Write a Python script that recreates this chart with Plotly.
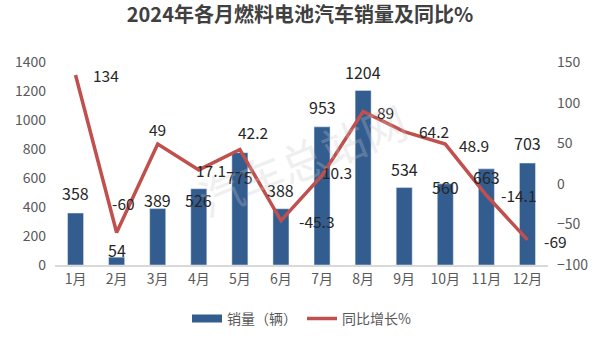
import plotly.graph_objects as go

months = ["1月", "2月", "3月", "4月", "5月", "6月", "7月", "8月", "9月", "10月", "11月", "12月"]
sales = [358, 54, 389, 526, 775, 388, 953, 1204, 534, 560, 663, 703]
yoy = [134, -60, 49, 17.1, 42.2, -45.3, 10.3, 89, 64.2, 48.9, -14.1, -69]

# label placement (pixel offsets from each mark)
sales_shift = [20, 7, 9, -11, -24, 19, 20, 18, 19, -3, -8, 20]
yoy_shift = [(30, 0), (7, 30), (0, 15), (12, 0), (13, 18), (36, 0),
             (15, 3), (22, 0), (30, 1), (29, -1), (33, 0), (28, -1)]

BAR = "#335C8F"
LINE = "#C0504D"
FONT = "Noto Sans CJK SC"
TXT = "#262626"
TICK = "#595959"

fig = go.Figure()
fig.add_trace(go.Bar(
    x=months, y=sales, name="销量（辆）", marker_color=BAR, width=0.39,
    yaxis="y", showlegend=False,
))
# wide legend swatch for the bar series
fig.add_trace(go.Scatter(
    x=[None], y=[None], name="销量（辆）", mode="lines",
    line=dict(color=BAR, width=8), yaxis="y",
))
fig.add_trace(go.Scatter(
    x=months, y=yoy, name="同比增长%", mode="lines",
    line=dict(color=LINE, width=3.5), yaxis="y2",
))

ann = []
for m, v, dy in zip(months, sales, sales_shift):
    ann.append(dict(x=m, y=v, xref="x", yref="y", text=str(v), showarrow=False,
                    yshift=dy, font=dict(size=16, color=TXT, family=FONT)))
for m, v, (dx, dy) in zip(months, yoy, yoy_shift):
    ann.append(dict(x=m, y=v, xref="x", yref="y2", text=f"{v:g}", showarrow=False,
                    xshift=dx, yshift=dy, font=dict(size=15.5, color=TXT, family=FONT)))
ann.append(dict(x=0.5, y=0.52, xref="paper", yref="paper", text="汽车总站网",
                showarrow=False, textangle=-22,
                font=dict(size=44, color="rgba(200,200,200,0.3)", family=FONT)))

fig.update_layout(
    width=600, height=341,
    margin=dict(l=55, r=52, t=62, b=76, autoexpand=False),
    paper_bgcolor="white", plot_bgcolor="white",
    title=dict(text="<b>2024年各月燃料电池汽车销量及同比%</b>", x=0.5, y=0.955,
               xanchor="center", yanchor="middle",
               font=dict(size=20, color="#404040", family=FONT)),
    font=dict(family=FONT, color=TICK, size=14),
    xaxis=dict(showgrid=False, showline=True, linecolor="#D9D9D9", linewidth=1.5,
               ticks="", tickfont=dict(size=14, color=TICK), automargin=False,
               range=[-0.5, 11.5]),
    yaxis=dict(range=[0, 1400], dtick=200, showgrid=False, zeroline=False,
               tickfont=dict(size=14, color=TICK), ticklabelstandoff=8,
               automargin=False),
    yaxis2=dict(range=[-100, 150], dtick=50, overlaying="y", side="right",
                showgrid=False, zeroline=False, automargin=False,
                tickfont=dict(size=14, color=TICK), ticklabelstandoff=8),
    legend=dict(orientation="h", x=0.5, xanchor="center", yref="container",
                y=0.065, yanchor="middle", font=dict(size=14, color=TICK),
                itemwidth=30),
    annotations=ann,
)

fig.write_html("out.html")
